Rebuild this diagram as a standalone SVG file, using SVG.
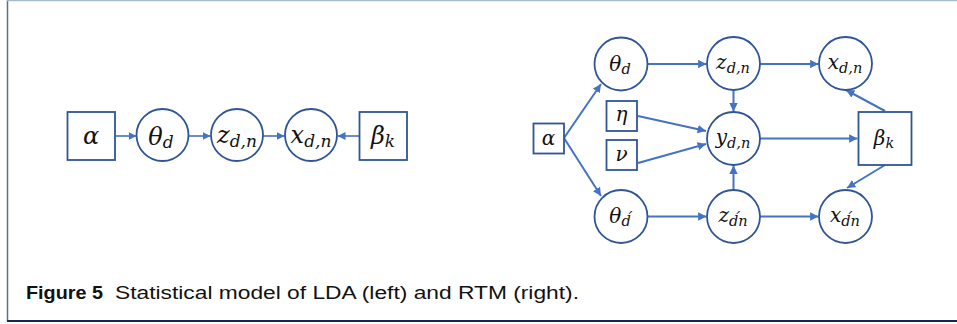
<svg xmlns="http://www.w3.org/2000/svg" width="957" height="324" viewBox="0 0 957 324">
<defs>
<marker id="ah" viewBox="0 0 10 10" refX="10" refY="5" markerWidth="4.2" markerHeight="4.2" orient="auto" markerUnits="strokeWidth">
<path d="M0,0 L10,5 L0,10 z" fill="#4472C4"/>
</marker>
<marker id="ahs" viewBox="0 0 10 10" refX="10" refY="5" markerWidth="5" markerHeight="5" orient="auto" markerUnits="strokeWidth">
<path d="M0,0 L10,5 L0,10 z" fill="#4472C4"/>
</marker>
</defs>
<style>
.nd{fill:#fff;stroke:#2F5597;stroke-width:1.8}
.ln{fill:none;stroke:#4472C4;stroke-width:2;marker-end:url(#ah)}
.lns{fill:none;stroke:#4472C4;stroke-width:1.6;marker-end:url(#ahs)}
.m{font-family:"DejaVu Serif","Liberation Serif",serif;font-style:italic;fill:#111;text-anchor:middle}
.L{font-size:24px}
.R{font-size:20px}
.sL{font-size:17px}
.sR{font-size:14.5px}
.cap{font-family:"Liberation Sans","DejaVu Sans",sans-serif;font-size:17.5px;fill:#111}
</style>
<rect x="0" y="0" width="957" height="324" fill="#fff"/>
<line x1="7.5" y1="0" x2="7.5" y2="321" stroke="#5a7090" stroke-width="1.5"/>
<line x1="7" y1="0.6" x2="957" y2="0.6" stroke="#a9bccc" stroke-width="1.5"/>
<line x1="7" y1="321" x2="957" y2="321" stroke="#0e2a50" stroke-width="1.8"/>

<g id="connectors">
<line class="lns" x1="115" y1="136" x2="136.5" y2="136"/>
<line class="lns" x1="188.5" y1="136" x2="210.5" y2="136"/>
<line class="lns" x1="262.5" y1="136" x2="284.5" y2="136"/>
<line class="lns" x1="359" y1="136" x2="337.5" y2="136"/>

<line class="ln" x1="564" y1="138" x2="601" y2="84"/>
<line class="ln" x1="564" y1="138" x2="601" y2="196"/>
<line class="ln" x1="648" y1="64" x2="706.5" y2="64"/>
<line class="ln" x1="648" y1="216.5" x2="706.5" y2="216.5"/>
<line class="ln" x1="733.5" y1="90" x2="733.5" y2="111.5"/>
<line class="ln" x1="733.5" y1="190" x2="733.5" y2="165.5"/>
<line class="ln" x1="638" y1="116" x2="706" y2="131"/>
<line class="ln" x1="638" y1="163" x2="706" y2="144"/>
<line class="ln" x1="760" y1="64" x2="818.5" y2="64"/>
<line class="ln" x1="760" y1="216.5" x2="818.5" y2="216.5"/>
<line class="ln" x1="760" y1="138.5" x2="857.5" y2="138.5"/>
<line class="ln" x1="885" y1="111" x2="846" y2="90"/>
<line class="ln" x1="885" y1="165" x2="847" y2="188"/>
</g>

<g id="lda-alpha"><rect class="nd" x="67.5" y="112" width="47.5" height="48"/><text class="m L" x="91" y="144">α</text></g>
<g id="lda-theta"><circle class="nd" cx="162.5" cy="135" r="26"/><text class="m L" x="161" y="145">θ<tspan class="sL" dy="3">d</tspan></text></g>
<g id="lda-z"><circle class="nd" cx="237" cy="135" r="26"/><text class="m L" x="237" y="143">z<tspan class="sL" dy="4">d,n</tspan></text></g>
<g id="lda-x"><circle class="nd" cx="311" cy="135" r="26"/><text class="m L" x="311" y="143">x<tspan class="sL" dy="4">d,n</tspan></text></g>
<g id="lda-beta"><rect class="nd" x="359.5" y="112" width="47.5" height="48"/><text class="m L" x="383" y="144">β<tspan class="sL" dy="3">k</tspan></text></g>

<g id="rtm-alpha"><rect class="nd" x="533.5" y="123.5" width="30.5" height="30"/><text class="m R" x="548.5" y="145">α</text></g>
<g id="rtm-eta"><rect class="nd" x="606.5" y="101" width="30.5" height="30"/><text class="m R" x="621.5" y="121">η</text></g>
<g id="rtm-nu"><rect class="nd" x="606.5" y="140" width="30.5" height="30"/><text class="m R" x="621.5" y="161">ν</text></g>
<g id="rtm-theta-d"><circle class="nd" cx="621" cy="64" r="26.5"/><text class="m R" x="620" y="71">θ<tspan class="sR" dy="3">d</tspan></text></g>
<g id="rtm-theta-d2"><circle class="nd" cx="621" cy="216.5" r="26.5"/><text class="m R" x="620" y="223">θ<tspan class="sR" dy="3">d́</tspan></text></g>
<g id="rtm-z-dn"><circle class="nd" cx="733.5" cy="63.5" r="26.5"/><text class="m R" x="733" y="69">z<tspan class="sR" dy="4">d,n</tspan></text></g>
<g id="rtm-y-dn"><circle class="nd" cx="733.5" cy="138.5" r="26.5"/><text class="m R" x="733" y="144">y<tspan class="sR" dy="4">d,n</tspan></text></g>
<g id="rtm-z-d2n"><circle class="nd" cx="733.5" cy="216.5" r="26.5"/><text class="m R" x="733" y="222">z<tspan class="sR" dy="4">d́n</tspan></text></g>
<g id="rtm-x-dn"><circle class="nd" cx="845.5" cy="63.5" r="26.5"/><text class="m R" x="845" y="69">x<tspan class="sR" dy="4">d,n</tspan></text></g>
<g id="rtm-x-d2n"><circle class="nd" cx="845.5" cy="216.5" r="26.5"/><text class="m R" x="845" y="222">x<tspan class="sR" dy="4">d́n</tspan></text></g>
<g id="rtm-beta"><rect class="nd" x="858.5" y="112" width="53" height="53"/><text class="m R" x="884" y="145">β<tspan class="sR" dy="3">k</tspan></text></g>

<g id="caption">
<text class="cap" x="26" y="298.5"><tspan font-weight="bold" textLength="77" lengthAdjust="spacingAndGlyphs">Figure 5</tspan><tspan x="115" textLength="464" lengthAdjust="spacingAndGlyphs">Statistical model of LDA (left) and RTM (right).</tspan></text>
</g>
</svg>
